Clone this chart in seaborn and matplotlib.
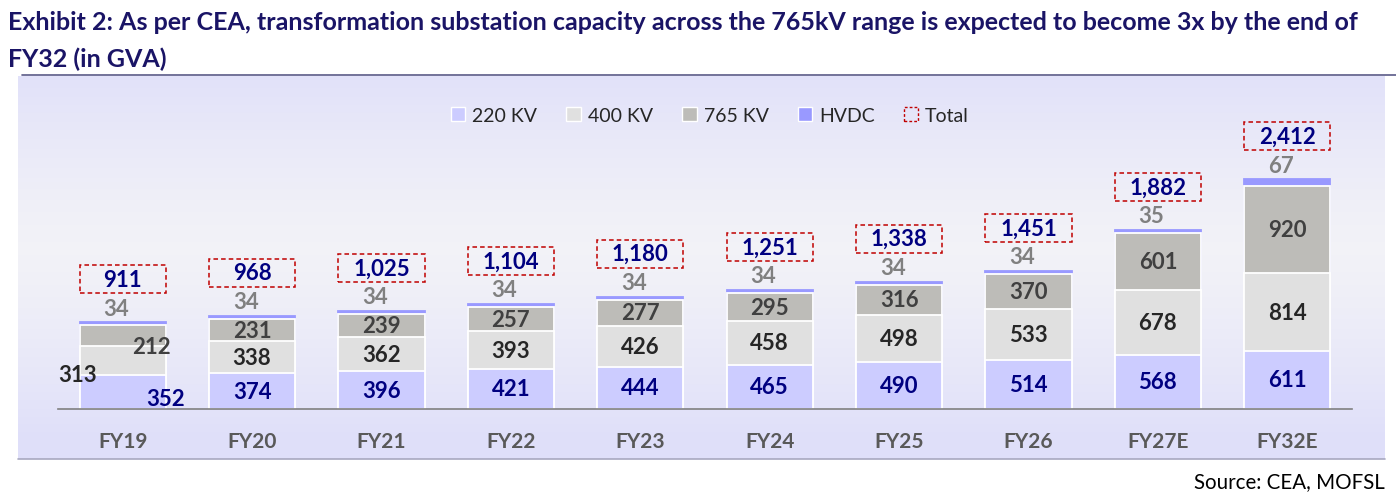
import numpy as np
import pandas as pd
import matplotlib.pyplot as plt
import matplotlib.patches as mpatches
from matplotlib.lines import Line2D
import seaborn as sns

# data (GVA)
years = ['FY19', 'FY20', 'FY21', 'FY22', 'FY23', 'FY24', 'FY25', 'FY26', 'FY27E', 'FY32E']
kv220 = [352, 374, 396, 421, 444, 465, 490, 514, 568, 611]
kv400 = [313, 338, 362, 393, 426, 458, 498, 533, 678, 814]
kv765 = [212, 231, 239, 257, 277, 295, 316, 370, 601, 920]
hvdc = [34, 34, 34, 34, 34, 34, 34, 34, 35, 67]
totals = [911, 968, 1025, 1104, 1180, 1251, 1338, 1451, 1882, 2412]

series = ['220 KV', '400 KV', '765 KV', 'HVDC']
colors = ['#ccccff', '#e0e0e0', '#bdbcb8', '#9999ff']
label_colors = ['#000080', '#262626', '#404040', '#808080']

sns.set_theme(style='white')
plt.rcParams['font.family'] = ['Lato', 'DejaVu Sans']

df = pd.DataFrame({'Year': years, '220 KV': kv220, '400 KV': kv400,
                   '765 KV': kv765, 'HVDC': hvdc, 'Total': totals})
cum = df[series].cumsum(axis=1)

fig = plt.figure(figsize=(13.96, 5.02), dpi=100)

# panel background gradient
bg = fig.add_axes([18 / 1396, 42 / 502, 1367 / 1396, 383 / 502], zorder=-5)
t = np.linspace(0, 1, 200)
v = np.clip(np.abs(t - 0.45) / 0.5, 0, 1) ** 1.3
top = np.array([0.875, 0.875, 0.98])
mid = np.array([0.95, 0.95, 0.97])
grad = mid[None, :] * (1 - v[:, None]) + top[None, :] * v[:, None]
bg.imshow(grad[:, None, :], aspect='auto', extent=(0, 1, 0, 1))
bg.axis('off')

ax = fig.add_axes([58 / 1396, 92 / 502, 1294 / 1396, 310 / 502])
ax.patch.set_alpha(0)
bar_w = 0.665

# stacked bars: draw cumulative heights back to front
for k in range(len(series) - 1, -1, -1):
    edge = colors[k] if k == len(series) - 1 else 'white'
    sns.barplot(x=df['Year'], y=cum[series[k]], color=colors[k], width=bar_w,
                edgecolor=edge, linewidth=1.3, saturation=1, ax=ax, zorder=2)

upp = 10.5  # data units per pixel
ax.set_ylim(0, 310 * upp)
ax.set_xlim(-0.5, 9.5)

# segment labels (FY19 labels sit off-centre in the source)
fy19_shift = {0: (0.33, -70), 1: (-0.35, -150), 2: (0.22, -120)}
for i in range(len(years)):
    base = 0
    for k, s in enumerate(series):
        val = df.loc[i, s]
        if k < 3:
            x, y = i, base + val / 2
            if i == 0:
                dx, dy = fy19_shift[k]
                x, y = i + dx, y + dy
            ax.text(x, y, f'{val:,}', ha='center', va='center', fontsize=16,
                    fontweight='bold', color=label_colors[k], zorder=4, clip_on=False)
        else:
            ax.text(i - 0.05, base + val + 14 * upp, f'{val:,}', ha='center', va='center',
                    fontsize=16, fontweight='bold', color=label_colors[k], zorder=4)
        base += val
    # total in dashed box
    yc = base + 43 * upp
    ax.add_patch(mpatches.Rectangle((i - bar_w / 2, yc - 14 * upp), bar_w, 28 * upp,
                                    fill=False, ls=(0, (3, 2)), lw=1.1, ec='#c00000', zorder=3))
    ax.text(i, yc, f'{df.loc[i, "Total"]:,}', ha='center', va='center', fontsize=16,
            fontweight='bold', color='#000080', zorder=4)

for side in ['top', 'right', 'left']:
    ax.spines[side].set_visible(False)
ax.spines['bottom'].set_color('#808080')
ax.spines['bottom'].set_linewidth(1.2)
ax.set_yticks([])
ax.set_xlabel('')
ax.set_ylabel('')
ax.tick_params(axis='x', length=0, pad=16)
for lbl in ax.get_xticklabels():
    lbl.set_fontsize(15)
    lbl.set_fontweight('bold')
    lbl.set_color('#595959')

# legend
handles = [mpatches.Patch(facecolor=c, edgecolor='white', label=s) for s, c in zip(series, colors)]
handles.append(mpatches.Patch(facecolor='none', edgecolor='#c00000', ls=(0, (2, 1.5)), label='Total'))
fig.legend(handles=handles, loc='center', bbox_to_anchor=(710 / 1396, 1 - 116 / 502), ncol=5,
           frameon=False, fontsize=14, handlelength=0.75, handleheight=0.75,
           handletextpad=0.35, columnspacing=1.5)

# title, rules and source
fig.text(8 / 1396, 1 - 22 / 502, 'Exhibit 2: As per CEA, transformation substation capacity across '
         'the 765kV range is expected to become 3x by the end of',
         ha='left', va='center', fontsize=18, fontweight='bold', color='#1a1466')
fig.text(8 / 1396, 1 - 59 / 502, 'FY32 (in GVA)',
         ha='left', va='center', fontsize=18, fontweight='bold', color='#1a1466')
fig.add_artist(Line2D([22 / 1396, 1], [1 - 76 / 502] * 2, color='#5a5a88', lw=1.2))
fig.add_artist(Line2D([18 / 1396, 1385 / 1396], [1 - 460 / 502] * 2, color='#a8a8c0', lw=1.2))
fig.text(1385 / 1396, 1 - 482 / 502, 'Source: CEA, MOFSL', ha='right', va='center',
         fontsize=14.8, color='black')

fig.savefig('out.png', dpi=100)
